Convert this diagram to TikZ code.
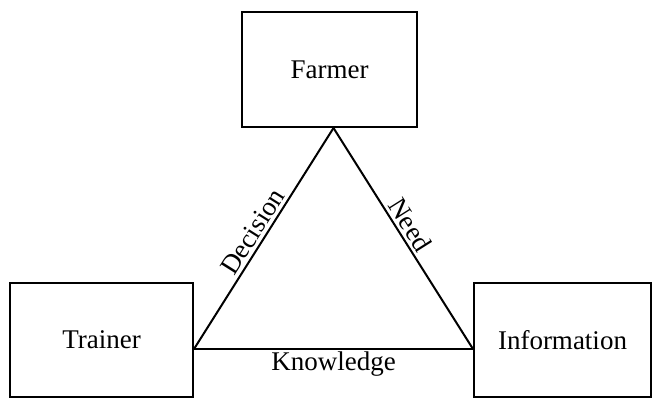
\documentclass[tikz,border=0pt]{standalone}
\usepackage{fontspec}
\setmainfont{Liberation Serif}
\usetikzlibrary{positioning}

\begin{document}
\begin{tikzpicture}[x=1pt,y=-1pt]

\tikzstyle{actor} = [rectangle, minimum width=175pt, minimum height=115pt, text centered, draw=black, line width=2pt, font=\fontsize{27}{32}\selectfont]
\tikzstyle{link} = [line width=2pt]
\tikzstyle{tag} = [font=\fontsize{27}{32}\selectfont, inner sep=3pt]

\useasboundingbox (0,0) rectangle (653,398);

% Nodes
\node (farmer) [actor] at (329.5,69.5) {Farmer};
\node (trainer) [actor, minimum width=183pt, minimum height=114pt] at (101.5,340) {Trainer};
\node (info) [actor, minimum width=177pt, minimum height=114pt] at (562.5,340) {Information};

% Lines
\draw [link] ([xshift=4pt]farmer.south) -- node[tag, pos=0.5, sloped, above] {Decision} ([yshift=-9pt]trainer.east);
\draw [link] ([xshift=4pt]farmer.south) -- node[tag, pos=0.47, sloped, above] {Need} ([yshift=-9pt]info.west);
\draw [link] ([yshift=-9pt]trainer.east) -- node[tag, below, inner sep=2pt] {Knowledge} ([yshift=-9pt]info.west);

\end{tikzpicture}
\end{document}
